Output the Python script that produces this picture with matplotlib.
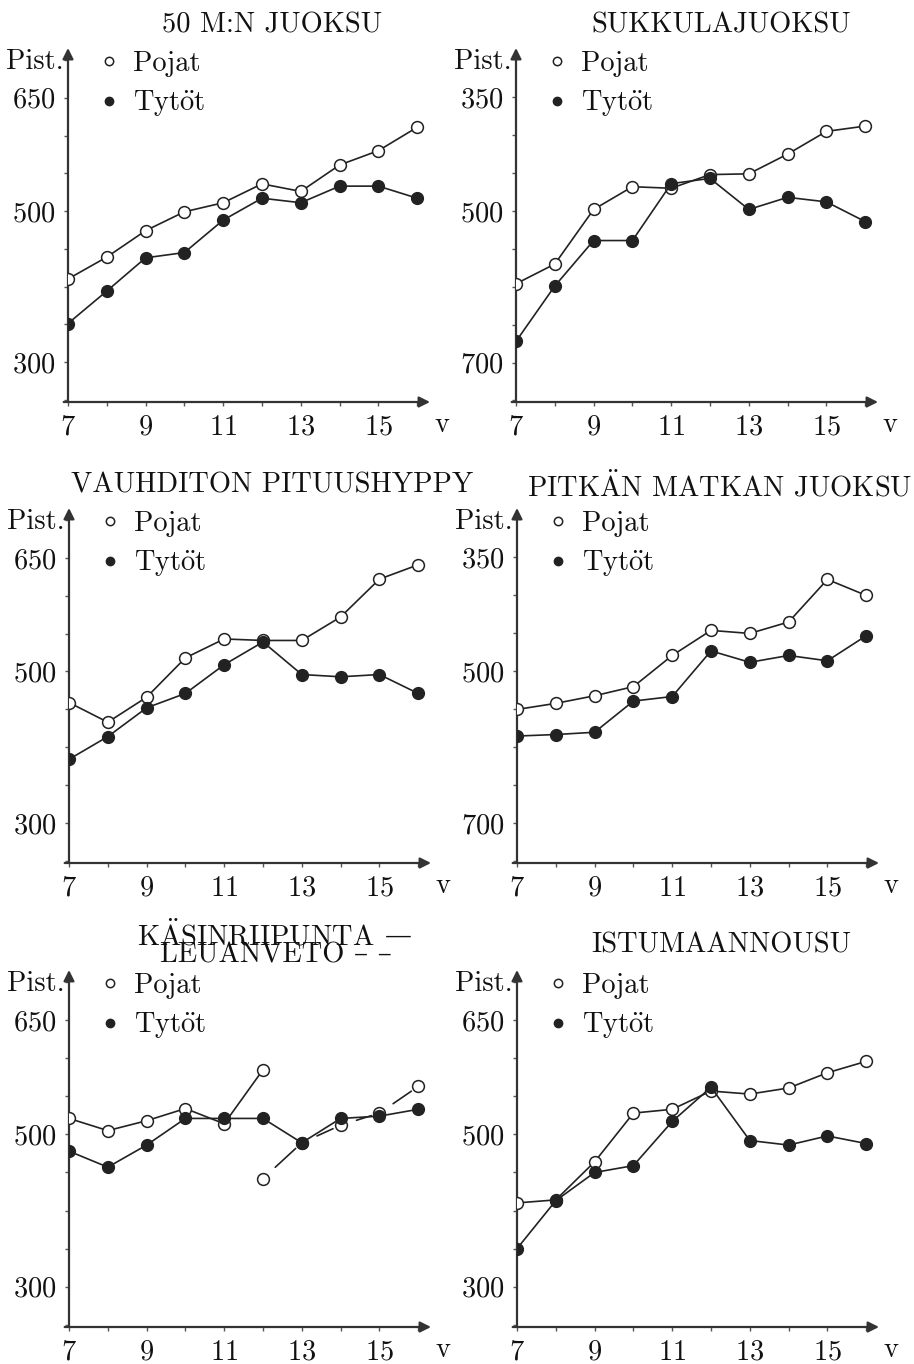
import matplotlib
matplotlib.use("Agg")
import matplotlib.pyplot as plt
from matplotlib.lines import Line2D
from matplotlib.ticker import FixedLocator, MultipleLocator

plt.rcParams['font.family'] = ['cmr10', 'DejaVu Serif']
plt.rcParams['mathtext.fontset'] = 'cm'
plt.rcParams['axes.formatter.use_mathtext'] = True

ages = [7, 8, 9, 10, 11, 12, 13, 14, 15, 16]

juoksu50_pojat = [410, 439, 474, 499, 511, 536, 526, 561, 580, 611]
juoksu50_tytot = [351, 394, 438, 445, 488, 517, 511, 533, 533, 517]

sukkula_pojat = [596, 570, 498, 468, 470, 452, 451, 425, 395, 388]
sukkula_tytot = [672, 599, 539, 539, 464, 457, 498, 482, 488, 514]

pituus_pojat = [459, 433, 466, 518, 543, 541, 541, 572, 622, 641]
pituus_tytot = [384, 414, 452, 471, 509, 539, 496, 493, 496, 471]

pitka_pojat = [550, 542, 532, 520, 479, 446, 450, 435, 379, 400]
pitka_tytot = [585, 583, 580, 539, 533, 473, 488, 479, 486, 453]

# boys: hanging (7-12) then pull-ups (12-16), girls hanging all ages
riipunta_ages = [7, 8, 9, 10, 11, 12]
riipunta_pojat = [521, 505, 518, 534, 514, 585]
leuanveto_ages = [12, 13, 14, 15, 16]
leuanveto_pojat = [442, 489, 512, 528, 563]
riipunta_tytot = [478, 457, 486, 521, 521, 521, 489, 521, 524, 533]

istuma_pojat = [410, 414, 464, 528, 533, 557, 553, 561, 581, 596]
istuma_tytot = [350, 413, 450, 459, 517, 562, 492, 486, 498, 488]

W, H = 914, 1364
INK = '#222222'
TXT = '#111111'
FS = 20.5

fig = plt.figure(figsize=(W / 100, H / 100), dpi=100)


def make_axes(x0, y_axis, y_top):
    # pixel geometry -> figure fractions
    return fig.add_axes([x0 / W, 1 - y_axis / H, 362 / W, (y_axis - y_top) / H])


def style(ax, inverted, labels):
    ax.set_xlim(7, 16.33)
    if inverted:
        ax.set_ylim(752, 285)
    else:
        ax.set_ylim(247, 716)
    for s in ax.spines.values():
        s.set_visible(False)
    ax.annotate('', xy=(1, 0), xytext=(-0.012, 0), xycoords='axes fraction',
                arrowprops=dict(arrowstyle='-|>', color='#333333', lw=1.6,
                                mutation_scale=16, shrinkA=0, shrinkB=0))
    ax.annotate('', xy=(0, 1), xytext=(0, 0), xycoords='axes fraction',
                arrowprops=dict(arrowstyle='-|>', color='#333333', lw=1.6,
                                mutation_scale=16, shrinkA=0, shrinkB=0))
    ax.xaxis.set_major_locator(FixedLocator([7, 9, 11, 13, 15]))
    ax.xaxis.set_minor_locator(FixedLocator([8, 10, 12, 14, 16]))
    ax.yaxis.set_major_locator(FixedLocator(labels))
    ax.yaxis.set_minor_locator(MultipleLocator(50))
    ax.tick_params(which='both', direction='out', length=3, width=1, color='#555555',
                   labelsize=FS, labelcolor=TXT)
    ax.tick_params(axis='y', pad=6)
    ax.tick_params(axis='x', pad=6)
    ax.patch.set_alpha(0)
    ax.text(-0.012, 0.96, 'Pist.', transform=ax.transAxes, ha='right', va='center',
            fontsize=FS, color=TXT)
    ax.text(1.033, -0.065, 'v', transform=ax.transAxes, ha='center', va='center',
            fontsize=FS, color=TXT)
    handles = [Line2D([], [], ls='none', marker='o', ms=6, mfc='white', mec=INK, mew=1.1),
               Line2D([], [], ls='none', marker='o', ms=6, mfc=INK, mec=INK)]
    leg = ax.legend(handles, ['Pojat', r'Tyt$\ddot{\mathrm{o}}$t'], loc='upper left',
                    bbox_to_anchor=(0.05, 1.025), frameon=False, fontsize=FS,
                    handlelength=0.8, handletextpad=0.45, labelspacing=0.41,
                    borderaxespad=0)
    for t in leg.get_texts():
        t.set_color(TXT)


def series(ax, x, boys, girls):
    ax.plot(x, boys, color=INK, lw=1.2, marker='o', ms=8.5, mfc='white', mec=INK,
            mew=1.1, zorder=3)
    ax.plot(ages, girls, color=INK, lw=1.2, marker='o', ms=8.5, mfc=INK, mec=INK,
            zorder=4)


rows = [(402, 48), (863, 508), (1327, 970)]

ax1 = make_axes(68, *rows[0])
style(ax1, False, [300, 500, 650])
series(ax1, ages, juoksu50_pojat, juoksu50_tytot)

ax2 = make_axes(516, *rows[0])
style(ax2, True, [350, 500, 700])
series(ax2, ages, sukkula_pojat, sukkula_tytot)

ax3 = make_axes(69, *rows[1])
style(ax3, False, [300, 500, 650])
series(ax3, ages, pituus_pojat, pituus_tytot)

ax4 = make_axes(517, *rows[1])
style(ax4, True, [350, 500, 700])
series(ax4, ages, pitka_pojat, pitka_tytot)

ax5 = make_axes(69, *rows[2])
style(ax5, False, [300, 500, 650])
series(ax5, riipunta_ages, riipunta_pojat, riipunta_tytot)
ax5.plot(leuanveto_ages, leuanveto_pojat, ls='none', marker='o', ms=8.5, mfc='white',
         mec=INK, mew=1.1, zorder=3)
# pull-up series: one dash per segment
for i in range(len(leuanveto_ages) - 1):
    ax5.annotate('', xy=(leuanveto_ages[i + 1], leuanveto_pojat[i + 1]),
                 xytext=(leuanveto_ages[i], leuanveto_pojat[i]),
                 arrowprops=dict(arrowstyle='-', color=INK, lw=1.2,
                                 shrinkA=12, shrinkB=6), zorder=3)

ax6 = make_axes(517, *rows[2])
style(ax6, False, [300, 500, 650])
series(ax6, ages, istuma_pojat, istuma_tytot)

# titles
titles = [('50 M:N JUOKSU', 272, 25), ('SUKKULAJUOKSU', 721, 25),
          ('VAUHDITON PITUUSHYPPY', 272, 485),
          (r'PITK$\ddot{\mathrm{A}}$N MATKAN JUOKSU', 720, 487),
          ('LEUANVETO – –', 276, 955),
          ('ISTUMAANNOUSU', 721, 945)]
for t, x, y in titles:
    fig.text(x / W, 1 - y / H, t, ha='center', va='center', fontsize=FS, color=TXT)

# first title line of the hanging / pull-up panel, em dash from a font that has it
t5 = fig.text(256 / W, 1 - 936 / H, r'K$\ddot{\mathrm{A}}$SINRIIPUNTA', ha='center',
              va='center', fontsize=FS, color=TXT)
fig.add_artist(matplotlib.text.Annotation('—', xy=(1, 0.5), xycoords=t5,
                                          xytext=(7, 0), textcoords='offset points',
                                          ha='left', va='center', fontsize=FS * 0.95,
                                          color=TXT, family='DejaVu Serif'))

fig.savefig('out.png', dpi=100, facecolor='white')
